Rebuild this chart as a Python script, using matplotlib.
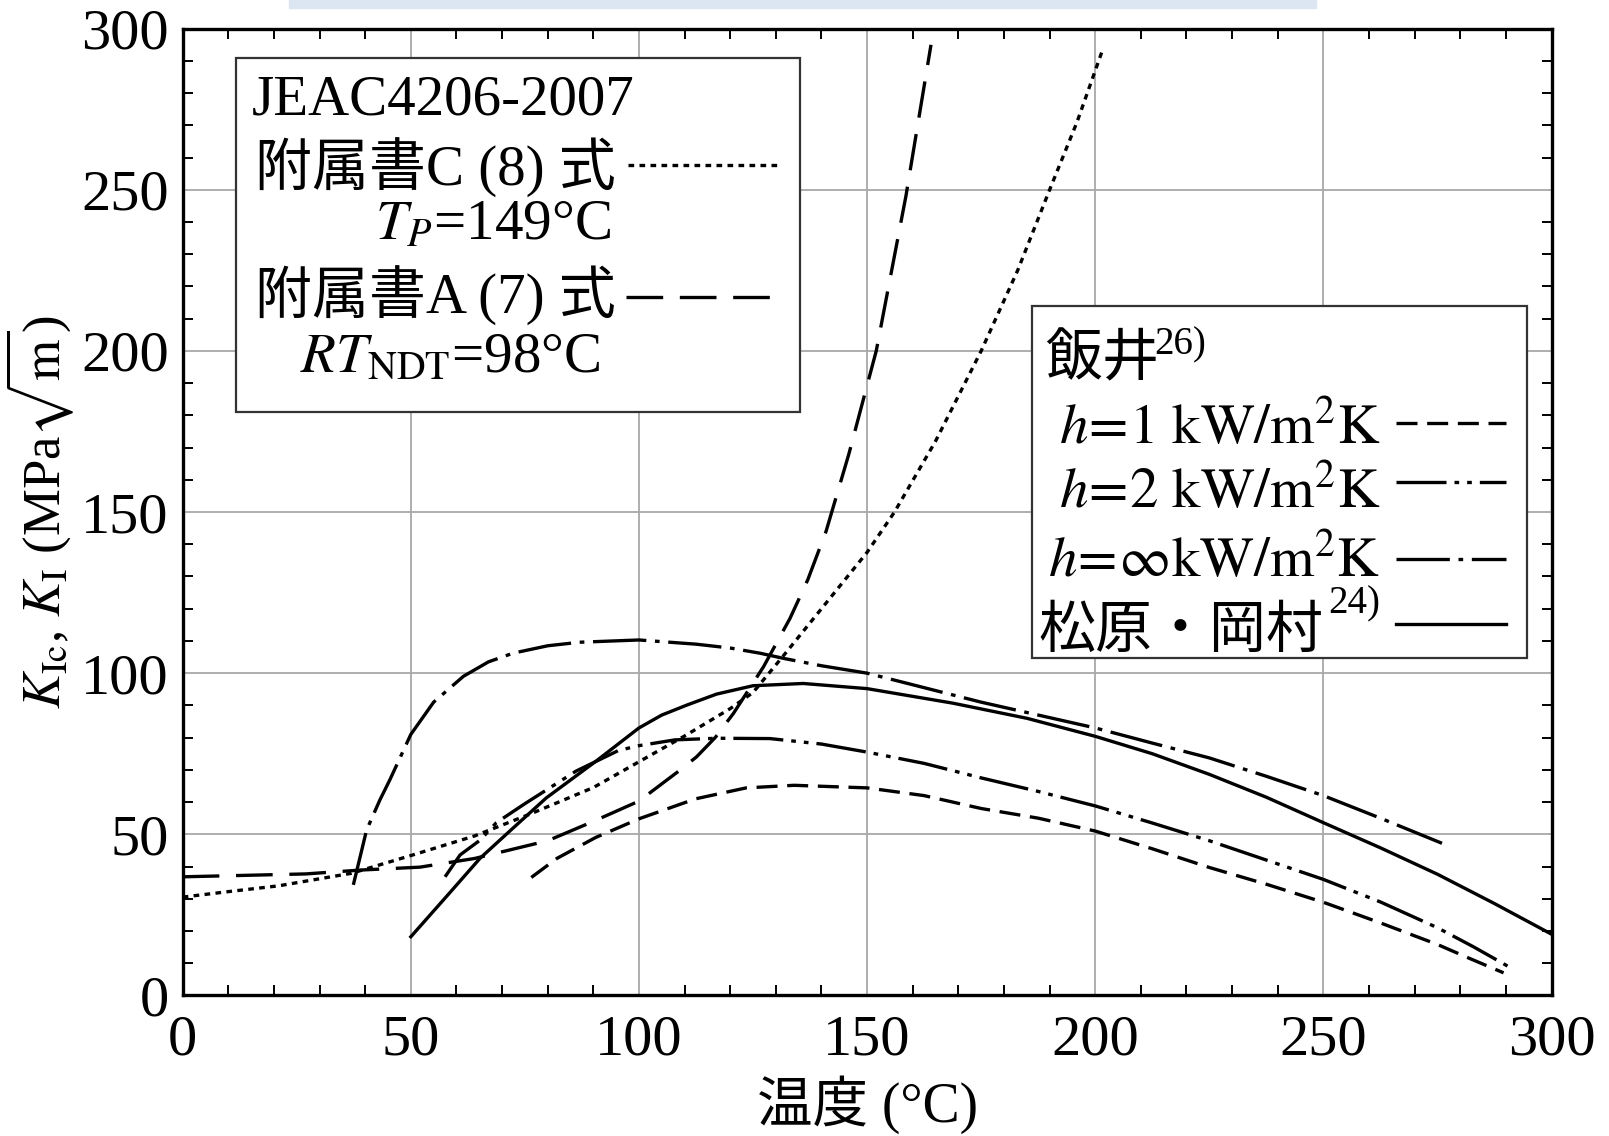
import matplotlib
matplotlib.use('Agg')
import matplotlib.pyplot as plt
from matplotlib.lines import Line2D
from matplotlib.patches import Rectangle
from matplotlib.ticker import MultipleLocator

plt.rcParams['font.family'] = ['Liberation Serif', 'Noto Sans CJK JP']
plt.rcParams['mathtext.fontset'] = 'stix'

# JEAC4206-2007 附属書C (8)式, Tp=149°C
t_c8 = [0, 10, 21, 37, 50, 64, 76, 90, 100, 110, 120, 125, 132, 140, 150, 156, 165, 175, 183, 190, 196, 201.5]
k_c8 = [30.5, 32.2, 34, 37.9, 43.4, 49.5, 56.2, 64.5, 72.5, 80.5, 89, 94, 106, 120, 137.5, 150, 172, 200, 225, 250, 271, 293]

# 附属書A (7)式, RTndt=98°C
t_a7 = [0, 27, 39, 52, 64, 80, 90, 100, 108.7, 112.6, 116.7, 120.7, 127.3, 133.1, 137, 141, 146, 152, 158.5, 164]
k_a7 = [36.8, 37.7, 38.9, 39.8, 42.5, 48, 54, 60.3, 69.6, 74, 80, 87.5, 102, 117, 129, 144, 168, 200, 248, 295]

# 飯井 h=1 kW/m2K
t_h1 = [76.4, 82, 90.5, 100, 112.4, 123.5, 134, 150, 162.5, 175, 187.5, 200, 212.5, 225, 237.5, 250, 262.5, 275, 282, 289.5]
k_h1 = [36.6, 42.5, 49, 54.8, 61, 64.4, 65.2, 64.4, 62, 58, 55, 51, 45.5, 39.7, 34.5, 28.9, 22.5, 15.8, 11.5, 7]

# h=2 kW/m2K
t_h2 = [57.5, 60.8, 65.2, 68.75, 75, 86.2, 95.5, 100, 107.9, 117, 128.7, 140, 150, 162.5, 175, 187.5, 200, 212.5, 225, 237.5, 250, 262.5, 275, 283, 290.5]
k_h2 = [36.8, 43.6, 48.2, 53.6, 59.5, 69.6, 76, 77.5, 79.3, 79.8, 79.7, 78, 75.5, 72, 67.5, 63.3, 58.8, 53.5, 48, 42, 36, 29, 21, 15, 9]

# h=inf
t_hinf = [37.4, 40.3, 43.2, 45.4, 50, 55, 61.5, 67, 72.4, 80, 87, 100, 112.5, 120, 126.5, 132, 140, 150, 162.5, 175, 187.5, 200, 212.5, 225, 237.5, 250, 262.5, 276]
k_hinf = [34.3, 51.3, 60.6, 66.9, 81, 91, 99, 103.5, 106.2, 108.5, 109.6, 110.3, 109, 107.8, 106.2, 104.5, 102.3, 100, 95.5, 91, 87, 83, 78.3, 73.7, 68, 62, 55, 47.2]

# 松原・岡村
t_mo = [50, 58, 65.2, 72, 79.7, 90.6, 100, 105, 110.5, 117, 125, 136, 150, 168.75, 185, 200, 212.5, 225, 237.5, 250, 262.5, 275, 287.5, 300]
k_mo = [18.2, 31, 42.6, 51.4, 61.3, 72.7, 83, 87, 90.1, 93.5, 96.1, 96.8, 95.2, 90.7, 86, 80.4, 75, 68.6, 61.5, 53.6, 45.8, 37.6, 28.5, 19]

LW = 2.4
ls_c8 = (0, (1.7, 1.6))
ls_a7 = (0, (11, 5))
ls_h1 = (0, (6.3, 2.9))
ls_h2 = (0, (15, 2.4, 1.4, 2.4, 1.4, 2.4))
ls_hinf = (0, (16, 2.6, 1.4, 2.6))

fig = plt.figure(figsize=(16.09, 11.36), dpi=100)
fig.patches.append(Rectangle((289/1609, 1 - 8/1136), 1027/1609, 8/1136,
                             transform=fig.transFigure, color='#dce6f2', zorder=0))
ax = fig.add_axes([0.11355, 0.12377, 0.85072, 0.85097])

ax.plot(t_c8, k_c8, color='black', lw=LW, ls=ls_c8, zorder=3)
ax.plot(t_a7, k_a7, color='black', lw=LW, ls=ls_a7, zorder=3)
ax.plot(t_h1, k_h1, color='black', lw=LW, ls=ls_h1, zorder=3)
ax.plot(t_h2, k_h2, color='black', lw=LW, ls=ls_h2, zorder=3)
ax.plot(t_hinf, k_hinf, color='black', lw=LW, ls=ls_hinf, zorder=3)
ax.plot(t_mo, k_mo, color='black', lw=LW, ls='-', zorder=3)

ax.set_xlim(0, 300)
ax.set_ylim(0, 300)
ax.xaxis.set_major_locator(MultipleLocator(50))
ax.yaxis.set_major_locator(MultipleLocator(50))
ax.xaxis.set_minor_locator(MultipleLocator(10))
ax.yaxis.set_minor_locator(MultipleLocator(10))
ax.grid(True, which='major', color='#a8a8a8', lw=1.3, zorder=1)
ax.tick_params(which='major', length=0, labelsize=42)
ax.tick_params(axis='x', which='major', pad=14)
ax.tick_params(axis='y', which='major', pad=10)
ax.tick_params(which='minor', direction='in', length=7, width=1.4,
               top=True, right=True)
for s in ax.spines.values():
    s.set_linewidth(2.4)
    s.set_zorder(5)

ax.set_xlabel('温度 (°C)', fontsize=40, labelpad=6)
ax.set_ylabel(r'$K_{\mathrm{Ic}}$, $K_{\mathrm{I}}$ (MPa$\sqrt{\mathrm{m}}$)', fontsize=38, labelpad=4)

tr = ax.transAxes
# legend box 1
ax.add_patch(Rectangle((0.0390, 0.6040), 0.4123, 0.3652, transform=tr,
                       facecolor='white', edgecolor='#333333', lw=1.6, zorder=4))
FS = 41
ax.text(0.0502, 0.9108, 'JEAC4206-2007', transform=tr, fontsize=FS, va='baseline', zorder=6)
ax.text(0.0525, 0.8376, '附属書C (8) 式', transform=tr, fontsize=FS, va='baseline', zorder=6)
ax.text(0.3126, 0.7824, r'$T_P$=149°C', transform=tr, fontsize=FS, va='baseline', ha='right', zorder=6)
ax.text(0.0525, 0.7049, '附属書A (7) 式', transform=tr, fontsize=FS, va='baseline', zorder=6)
ax.text(0.3051, 0.6454, r'$RT_{\mathrm{NDT}}$=98°C', transform=tr, fontsize=FS, va='baseline', ha='right', zorder=6)
ax.add_line(Line2D([0.3253, 0.4363], [0.8588, 0.8588], transform=tr, color='black', lw=LW, ls=ls_c8, zorder=6))
ax.add_line(Line2D([0.3238, 0.4340], [0.7229, 0.7229], transform=tr, color='black', lw=LW, ls=ls_a7, zorder=6))

# legend box 2
ax.add_patch(Rectangle((0.6207, 0.3493), 0.3613, 0.3641, transform=tr,
                       facecolor='white', edgecolor='#333333', lw=1.6, zorder=4))
ax.text(0.6297, 0.6412, '飯井', transform=tr, fontsize=FS, va='baseline', zorder=6)
ax.text(0.7100, 0.6635, '26)', transform=tr, fontsize=28, va='baseline', zorder=6)
ax.text(0.8748, 0.5711, r'$h\!=\!1\ \mathrm{kW/m^2K}$', transform=tr, fontsize=FS, va='baseline', ha='right', zorder=6)
ax.text(0.8748, 0.5042, r'$h\!=\!2\ \mathrm{kW/m^2K}$', transform=tr, fontsize=FS, va='baseline', ha='right', zorder=6)
ax.text(0.8748, 0.4331, r'$h\!=\!\infty\mathrm{kW/m^2K}$', transform=tr, fontsize=FS, va='baseline', ha='right', zorder=6)
ax.text(0.8336, 0.3609, '松原・岡村', transform=tr, fontsize=FS, va='baseline', ha='right', zorder=6)
ax.text(0.8748, 0.3949, '24)', transform=tr, fontsize=28, va='baseline', ha='right', zorder=6)
for y, ls in [(0.5924, ls_h1), (0.5308, ls_h2), (0.4512, ls_hinf), (0.3843, '-')]:
    ax.add_line(Line2D([0.8861, 0.9670], [y, y], transform=tr, color='black', lw=LW, ls=ls, zorder=6))

fig.savefig('out.png', dpi=100)
